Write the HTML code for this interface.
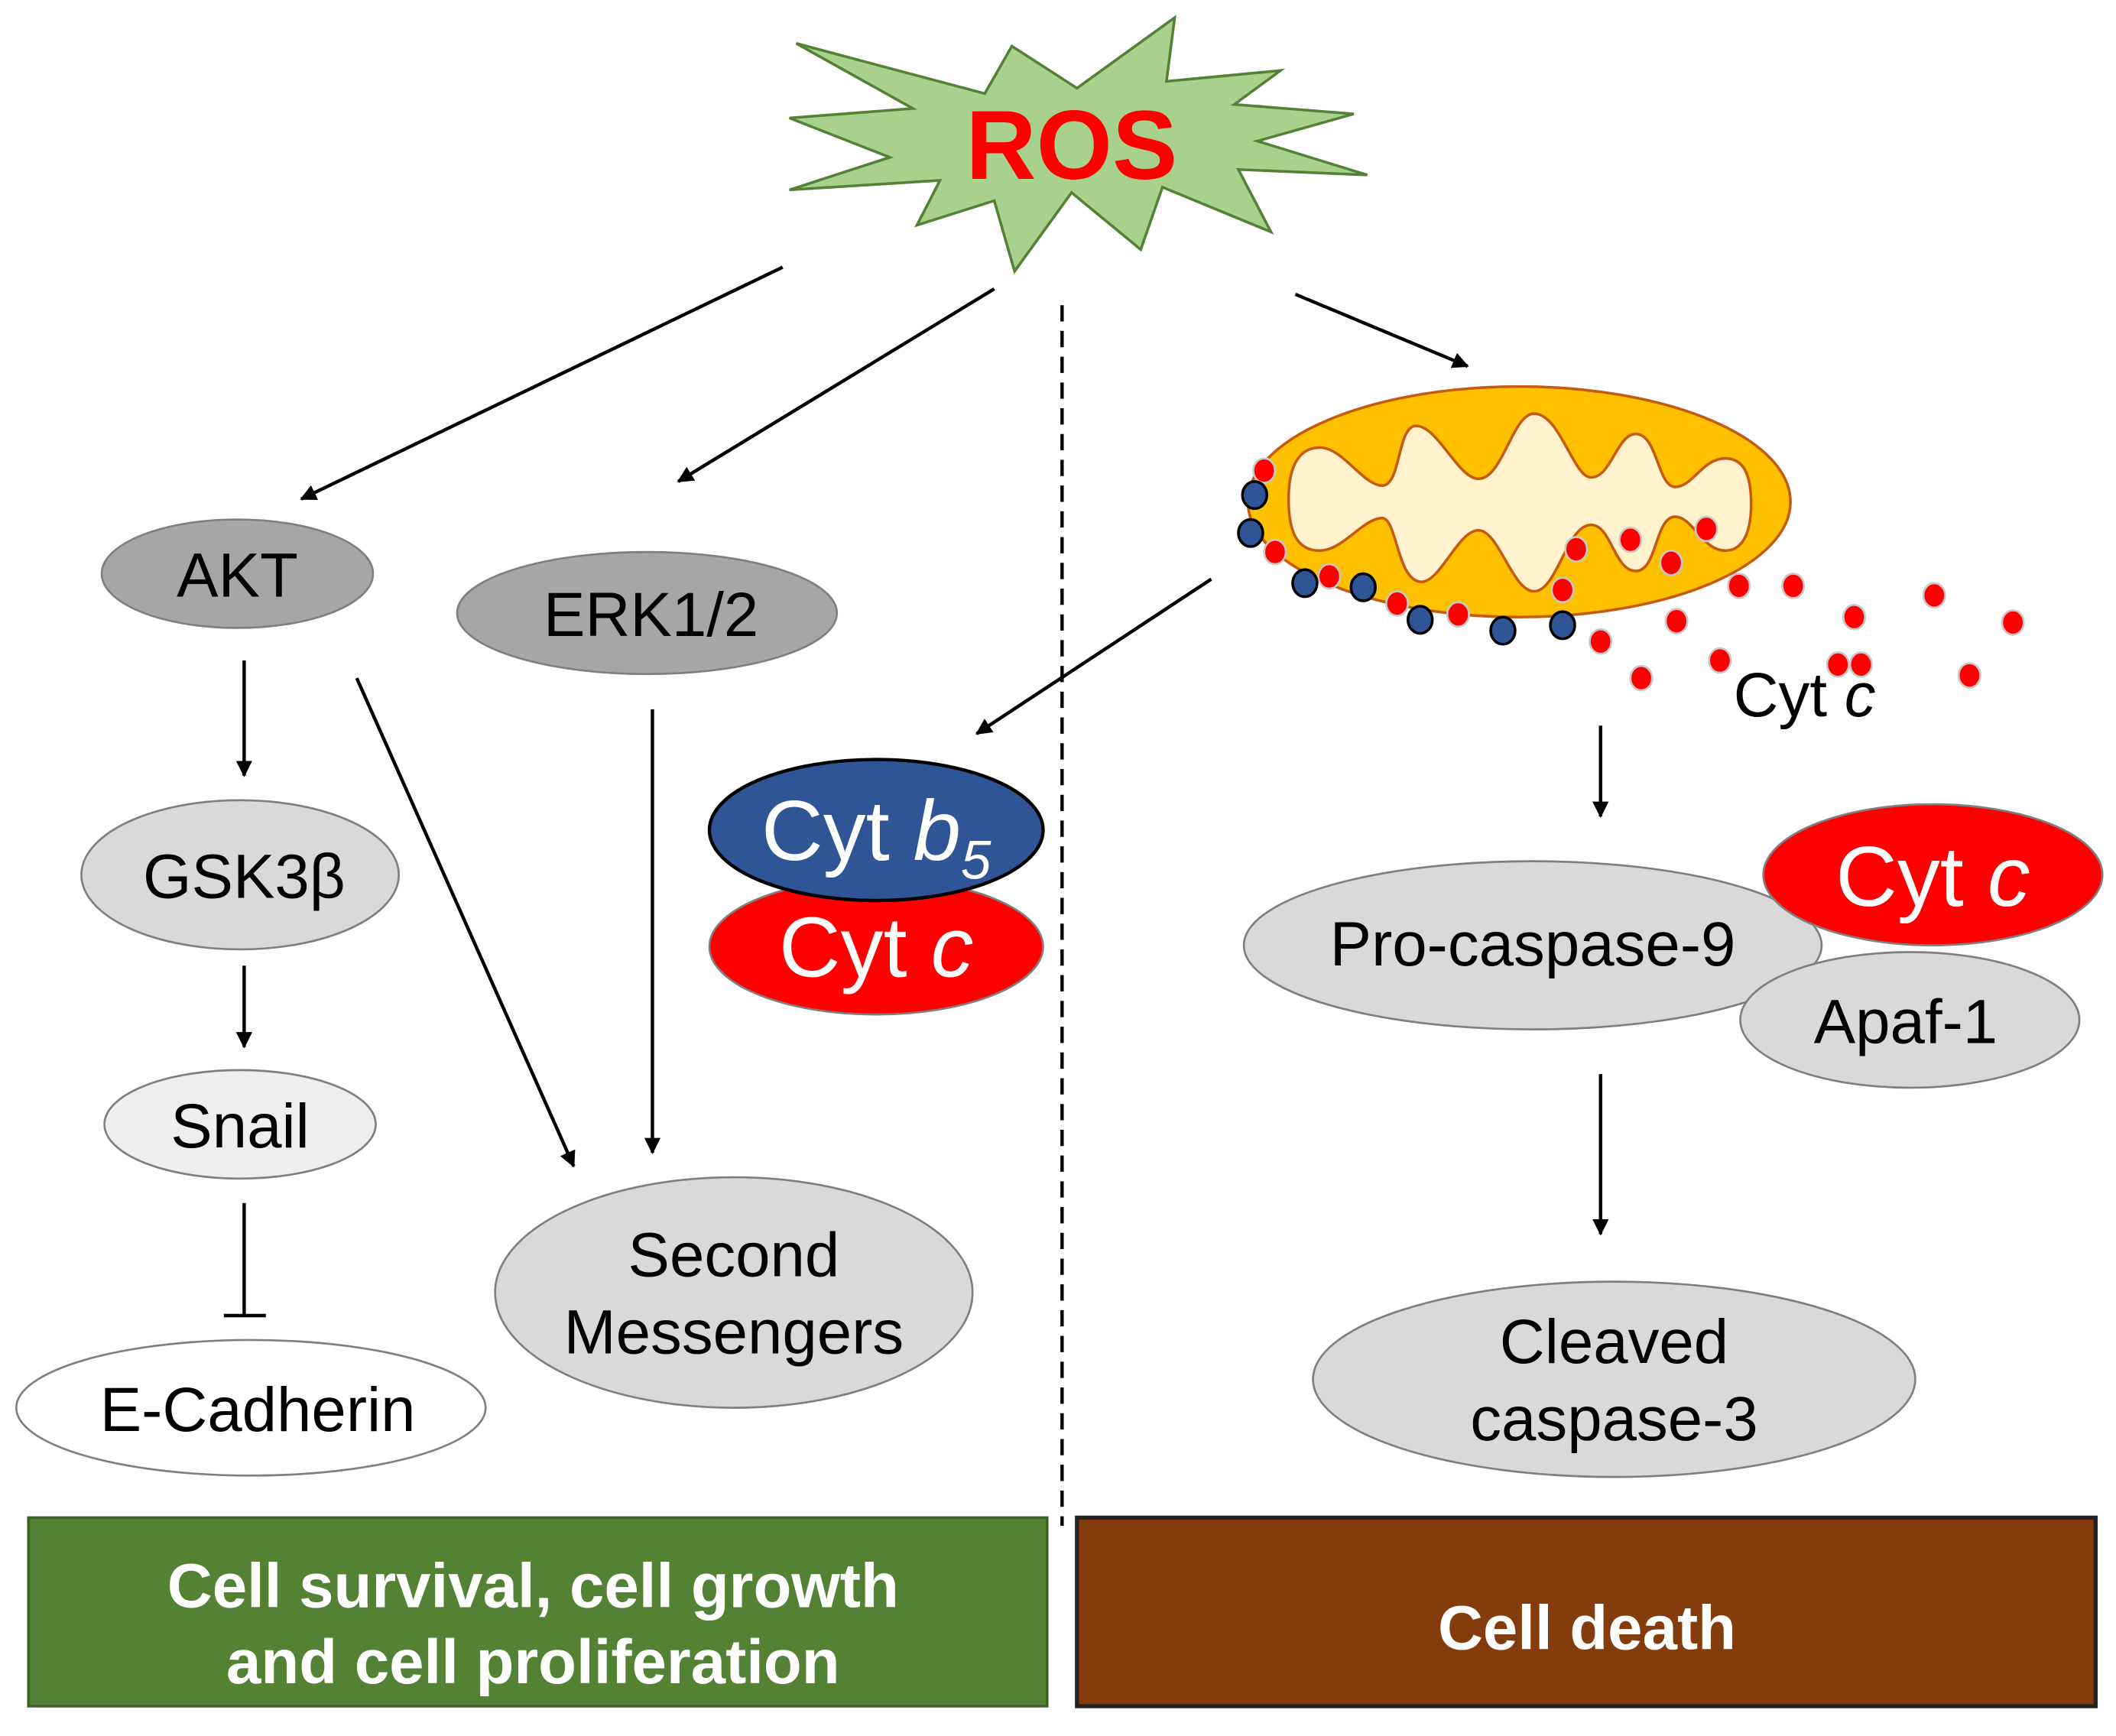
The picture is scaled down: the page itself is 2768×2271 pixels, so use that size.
<!DOCTYPE html>
<html><head><meta charset="utf-8"><style>html,body{margin:0;padding:0;background:#fff}svg{display:block}</style></head>
<body>
<svg width="2768" height="2271" viewBox="0 0 1560 1280" preserveAspectRatio="none" xmlns="http://www.w3.org/2000/svg" font-family="Liberation Sans, Arial, sans-serif">
<defs>
<marker id="ar" markerWidth="12" markerHeight="12" refX="11" refY="6" orient="auto" markerUnits="userSpaceOnUse"><path d="M0,0 L12,6 L0,12 Z" fill="#000"/></marker>
</defs>
<rect width="1560" height="1280" fill="#fff"/>
<polygon points="587,32 726,69 746,34 794,65 866,13 860,60 944,52 910,77 998,84 927,104 1008,129 913,125 937,171 857,138 841,184 790,142 748,200 733,148 676,166 693,133 582,140 656,116 582,87 673,80" fill="#a9d18e" stroke="#538135" stroke-width="2"/>
<text x="790" y="132" font-size="72" font-weight="bold" fill="#ff0000" text-anchor="middle">ROS</text>
<g stroke="#000" stroke-width="2.5" fill="none">
<line x1="577" y1="197" x2="222" y2="368" marker-end="url(#ar)"/>
<line x1="733" y1="213" x2="500" y2="355" marker-end="url(#ar)"/>
<line x1="955" y1="217" x2="1082" y2="270" marker-end="url(#ar)"/>
<line x1="893" y1="427" x2="720" y2="541" marker-end="url(#ar)"/>
<line x1="180" y1="487" x2="180" y2="572" marker-end="url(#ar)"/>
<line x1="180" y1="712" x2="180" y2="772" marker-end="url(#ar)"/>
<line x1="180" y1="887" x2="180" y2="970"/>
<line x1="165" y1="970" x2="196" y2="970"/>
<line x1="263" y1="500" x2="423" y2="860" marker-end="url(#ar)"/>
<line x1="481" y1="523" x2="481" y2="850" marker-end="url(#ar)"/>
<line x1="1180" y1="535" x2="1180" y2="602" marker-end="url(#ar)"/>
<line x1="1180" y1="792" x2="1180" y2="910" marker-end="url(#ar)"/>
<line x1="783" y1="225" x2="783" y2="1125" stroke-dasharray="12,7"/>
</g>
<g stroke="#7f7f7f" stroke-width="1.5">
<ellipse cx="175" cy="423" rx="100" ry="40" fill="#a6a6a6"/>
<ellipse cx="477" cy="452" rx="140" ry="45" fill="#a6a6a6"/>
<ellipse cx="177" cy="645" rx="117" ry="55" fill="#d9d9d9"/>
<ellipse cx="177" cy="829" rx="100" ry="40" fill="#eeeeee"/>
<ellipse cx="185" cy="1038" rx="173" ry="50" fill="#ffffff"/>
<ellipse cx="541" cy="953" rx="176" ry="85" fill="#d9d9d9"/>
<ellipse cx="646" cy="698" rx="123" ry="50" fill="#ff0000"/>
<ellipse cx="646" cy="612" rx="123" ry="52" fill="#2f5597" stroke="#000" stroke-width="2.5"/>
</g>
<g font-size="46" fill="#000" text-anchor="middle">
<text x="175" y="440">AKT</text>
<text x="480" y="469">ERK1/2</text>
<text x="180" y="662">GSK3β</text>
<text x="177" y="846">Snail</text>
<text x="190" y="1055">E-Cadherin</text>
<text x="541" y="941">Second</text>
<text x="541" y="998">Messengers</text>
</g>
<text x="646" y="634" font-size="63" fill="#fff" text-anchor="middle">Cyt <tspan font-style="italic">b</tspan><tspan font-style="italic" font-size="40" dy="14">5</tspan></text>
<text x="646" y="720" font-size="63" fill="#fff" text-anchor="middle">Cyt <tspan font-style="italic">c</tspan></text>
<ellipse cx="1120" cy="370" rx="200" ry="85" fill="#ffc000" stroke="#c55a11" stroke-width="2"/>
<path d="M950,368 C950,340 960,330 973,330 C990,330 1005,358 1019,358 C1033,358 1030,314 1044,314 C1060,314 1075,353 1090,353 C1108,353 1115,305 1131,305 C1150,305 1160,352 1173,352 C1188,352 1192,320 1206,320 C1222,320 1222,359 1235,359 C1248,359 1255,338 1272,338 C1288,338 1291,355 1291,372 C1291,392 1285,406 1272,406 C1255,406 1248,381 1235,381 C1220,381 1222,421 1206,421 C1190,421 1188,387 1173,387 C1155,387 1148,436 1131,436 C1115,436 1105,391 1090,391 C1075,391 1062,429 1048,429 C1030,429 1030,382 1019,382 C1005,382 990,406 973,406 C955,406 950,390 950,368 Z" fill="#fff2cc" stroke="#c55a11" stroke-width="2"/>
<g fill="#ff0000" stroke="#c8c8c8" stroke-width="1.5">
<ellipse cx="932" cy="347" rx="8" ry="9"/><ellipse cx="940" cy="407" rx="8" ry="9"/><ellipse cx="980" cy="425" rx="8" ry="9"/><ellipse cx="1030" cy="445" rx="8" ry="9"/><ellipse cx="1075" cy="453" rx="8" ry="9"/><ellipse cx="1152" cy="435" rx="8" ry="9"/><ellipse cx="1162" cy="405" rx="8" ry="9"/><ellipse cx="1202" cy="398" rx="8" ry="9"/><ellipse cx="1232" cy="415" rx="8" ry="9"/><ellipse cx="1258" cy="390" rx="8" ry="9"/><ellipse cx="1282" cy="432" rx="8" ry="9"/><ellipse cx="1322" cy="432" rx="8" ry="9"/><ellipse cx="1426" cy="439" rx="8" ry="9"/><ellipse cx="1484" cy="459" rx="8" ry="9"/><ellipse cx="1367" cy="455" rx="8" ry="9"/><ellipse cx="1236" cy="458" rx="8" ry="9"/><ellipse cx="1180" cy="473" rx="8" ry="9"/><ellipse cx="1210" cy="500" rx="8" ry="9"/><ellipse cx="1268" cy="487" rx="8" ry="9"/><ellipse cx="1355" cy="490" rx="8" ry="9"/><ellipse cx="1372" cy="490" rx="8" ry="9"/><ellipse cx="1452" cy="498" rx="8" ry="9"/>
</g>
<g fill="#2f5597" stroke="#000" stroke-width="2">
<ellipse cx="925" cy="365" rx="9" ry="10"/><ellipse cx="922" cy="393" rx="9" ry="10"/><ellipse cx="962" cy="430" rx="9" ry="10"/><ellipse cx="1005" cy="433" rx="9" ry="10"/><ellipse cx="1047" cy="457" rx="9" ry="10"/><ellipse cx="1108" cy="465" rx="9" ry="10"/><ellipse cx="1152" cy="461" rx="9" ry="10"/>
</g>
<text x="1278" y="528" font-size="46" fill="#000">Cyt <tspan font-style="italic">c</tspan></text>
<g stroke="#7f7f7f" stroke-width="1.5">
<ellipse cx="1130" cy="697" rx="213" ry="62" fill="#d9d9d9"/>
<ellipse cx="1408" cy="752" rx="125" ry="50" fill="#d9d9d9"/>
<ellipse cx="1425" cy="645" rx="125" ry="52" fill="#ff0000"/>
<ellipse cx="1190" cy="1017" rx="222" ry="72" fill="#d9d9d9"/>
</g>
<g font-size="46" fill="#000" text-anchor="middle">
<text x="1130" y="712">Pro-caspase-9</text>
<text x="1405" y="769">Apaf-1</text>
<text x="1190" y="1005">Cleaved</text>
<text x="1190" y="1062">caspase-3</text>
</g>
<text x="1425" y="668" font-size="63" fill="#fff" text-anchor="middle">Cyt <tspan font-style="italic">c</tspan></text>
<rect x="21" y="1119" width="751" height="139" fill="#548235" stroke="#3f6128" stroke-width="2"/>
<rect x="794" y="1119" width="751" height="139" fill="#843c0c" stroke="#222" stroke-width="3"/>
<g font-size="46" font-weight="bold" fill="#fff" text-anchor="middle">
<text x="393" y="1185">Cell survival, cell growth</text>
<text x="393" y="1241">and cell proliferation</text>
<text x="1170" y="1216">Cell death</text>
</g>
</svg>
</body></html>
